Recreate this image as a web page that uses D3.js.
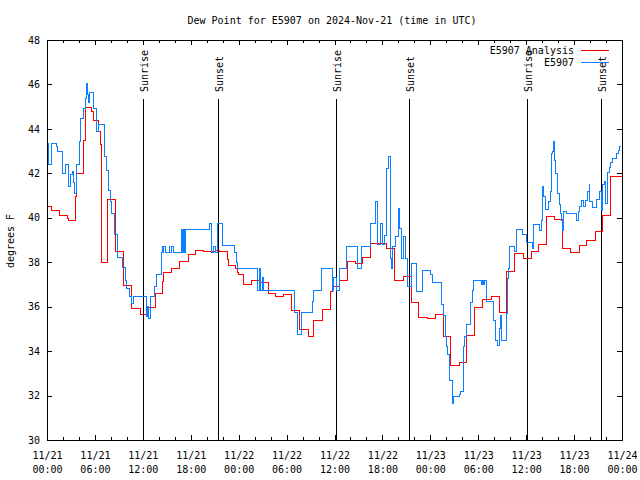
<!DOCTYPE html>
<html><head><meta charset="utf-8">
<script src="https://cdn.jsdelivr.net/npm/d3@7"></script>
<style>
body{margin:0;background:#fff}
svg text{font-family:"DejaVu Sans Mono",monospace;font-size:10px;fill:#000}
</style>
</head><body><svg id="c" width="640" height="480"></svg>
<script>
const chartTitle = "Dew Point for E5907 on 2024-Nov-21 (time in UTC)";
const yAxisLabel = "degrees F";
const seriesNames = ["E5907 Analysis", "E5907"];
const seriesColors = ["#ff0000", "#0a80ff"];
const startDate = Date.UTC(2024, 10, 21);
const endHour = 72;
const yTicks = [30, 32, 34, 36, 38, 40, 42, 44, 46, 48];
const sunriseHours = [12.06, 36.15, 60.14];
const sunsetHours = [21.45, 45.37, 69.41];

// E5907 Analysis (hours after 11/21 00:00 UTC, degrees F)
const analysisHours = [0,0.54,1.59,2.54,2.75,3.59,3.72,4.63,4.76,5.60,5.76,6.51,6.72,6.80,7.55,8.60,9.52,10.56,11.65,12.56,13.61,14.49,14.56,15.61,16.57,17.69,18.62,19.57,21.04,21.66,22.63,22.70,23.63,23.83,24.04,24.58,25.63,26.76,27.71,28.64,29.59,30.64,31.59,32.72,33.43,34.47,35.53,35.73,36.60,37.60,38.57,39.48,40.53,42.54,43.49,44.62,45.58,46.58,47.67,48.59,49.62,50.55,51.59,52.55,53.59,54.56,55.60,56.60,57.56,58.48,59.64,60.61,61.52,62.57,63.61,64.58,65.61,66.62,67.58,68.71,69.58,70.62,71.54,72];
const analysisValues = [40.5,40.33,40.1,39.95,39.9,40.95,42.0,43.5,44.97,44.8,44.4,43.9,43.3,38.0,40.83,38.5,36.95,35.9,35.66,35.97,36.6,37.12,37.55,37.72,38.05,38.37,38.54,38.49,38.55,38.5,38.13,37.87,37.72,37.55,37.43,37.0,37.2,37.08,36.6,36.45,36.56,35.82,34.98,34.68,35.37,35.88,36.68,36.93,37.2,38.03,37.95,38.2,38.85,38.63,37.2,37.38,36.2,35.52,35.48,35.66,34.68,33.37,33.49,34.7,35.97,36.33,36.48,35.73,37.58,38.4,38.16,38.49,38.8,40.08,39.93,38.61,38.46,38.76,39.0,39.4,40.12,41.88,41.85,41.85];

// E5907 observations
const obsHours = [0,0.25,0.54,1.21,1.29,1.92,2.34,2.63,2.75,2.88,3.17,3.32,3.47,3.67,4.01,4.13,4.22,4.51,4.76,4.92,5.01,5.17,5.35,5.76,6.22,6.51,7.26,7.48,7.68,7.98,8.10,8.39,8.51,8.80,9.43,9.77,9.98,10.36,10.56,10.81,12.48,12.56,12.68,13.02,13.52,13.65,14.28,14.40,14.59,14.65,14.78,15.28,15.40,15.65,15.78,16.78,16.94,17.03,17.16,17.28,20.29,20.54,20.91,21.04,21.41,21.95,23.45,23.67,23.83,26.33,26.55,26.76,26.96,27.09,31.05,31.39,31.89,33.22,33.31,34.35,35.78,35.88,36.19,36.60,37.53,38.86,39.41,40.45,41.16,41.41,41.70,41.99,42.32,42.54,42.70,42.95,43.16,43.24,43.58,43.99,44.20,44.42,44.62,44.83,45.17,45.58,46.21,47.05,47.75,47.96,48.25,49.42,49.71,49.92,50.05,50.17,50.38,50.75,50.96,51.59,51.80,52.13,52.34,52.55,52.97,53.26,53.38,54.35,54.47,54.60,54.72,55.06,55.97,56.22,56.39,56.64,56.76,56.94,57.56,57.69,57.76,57.89,58.48,58.82,59.57,60.07,60.82,60.98,61.65,61.95,62.07,62.23,62.36,62.77,62.99,63.11,63.20,63.27,63.40,63.49,63.70,63.90,64.15,64.33,64.45,64.58,64.65,64.86,64.99,66.33,66.53,66.74,66.95,67.16,67.37,67.66,67.91,67.99,68.33,68.83,69.16,69.46,69.58,69.79,69.96,70.16,70.41,70.62,70.86,71.25,71.54,71.66,71.88];
const obsValues = [43.35,42.4,43.35,43.2,42.98,42.0,42.4,41.96,41.4,41.96,42.1,41.6,41.1,42.38,42.75,43.43,44.48,44.9,45.37,46.05,45.53,45.2,45.65,44.93,43.87,44.2,42.75,42.15,41.25,40.73,40.2,39.75,39.23,38.2,37.75,37.2,36.8,36.45,36.15,36.48,35.55,36.0,35.48,36.45,36.93,37.43,38.44,38.7,38.44,38.7,38.44,38.7,38.44,38.7,38.44,39.48,38.44,39.48,38.44,39.48,39.75,38.44,38.7,38.44,39.75,38.75,38.44,38.0,37.72,36.75,37.72,36.75,37.3,36.75,35.73,34.73,35.75,36.23,36.75,37.72,36.75,37.3,36.75,37.72,38.7,37.72,38.7,39.75,40.73,38.78,39.75,38.78,39.2,42.22,42.78,38.17,37.72,38.7,39.15,40.43,39.5,38.17,39.15,38.17,36.9,37.95,36.68,37.65,37.65,37.43,37.1,36.1,35.62,34.68,34.2,33.83,32.7,31.65,31.95,32.05,32.2,34.2,34.68,35.2,36.18,36.72,37.2,37.0,37.2,37.0,37.2,36.23,35.4,34.5,34.27,35.02,35.6,34.5,35.7,37.27,37.72,38.7,38.48,39.48,39.23,38.88,38.63,39.68,39.45,39.9,41.4,40.95,40.38,40.73,41.18,41.7,42.9,43.0,43.43,42.6,42.0,41.1,40.58,40.2,39.9,39.45,40.3,40.28,40.2,39.9,40.28,40.5,40.8,40.5,40.8,41.18,41.48,40.73,40.48,40.83,41.18,40.35,41.5,41.63,40.65,42.03,42.27,42.48,42.68,42.9,43.05,43.23,43.23];

const toDate = h => new Date(startDate + h * 3600e3);
const svg = d3.select("#c");
const L = 47, R = 622, T = 40, B = 440;

const x = d3.scaleUtc().domain([toDate(0), toDate(endHour)]).range([L, R]);
const y = d3.scaleLinear().domain([30, 48]).range([B, T]);

// title
svg.append("text").attr("x", 332).attr("y", 24).attr("text-anchor", "middle").text(chartTitle);
// y label
svg.append("text").attr("transform", "translate(14,241) rotate(-90)").attr("text-anchor", "middle").text(yAxisLabel);

// axes
const majorTicks = d3.utcHour.every(6).range(toDate(0), toDate(endHour + 0.01));
const minorTicks = d3.utcHour.every(2).range(toDate(0), toDate(endHour + 0.01)).filter(d => d.getUTCHours() % 6 !== 0);

const gx = svg.append("g").attr("transform", `translate(0,${B})`)
  .call(d3.axisBottom(x).tickValues(majorTicks).tickSize(-5).tickFormat(""));
gx.selectAll(".tick").each(function(d) {
  const t = d3.select(this).append("text").attr("text-anchor", "middle");
  t.append("tspan").attr("x", 0).attr("y", 19).text(d3.utcFormat("%m/%d")(d));
  t.append("tspan").attr("x", 0).attr("y", 33).text(d3.utcFormat("%H:%M")(d));
});
svg.append("g").attr("transform", `translate(0,${B})`).call(d3.axisBottom(x).tickValues(minorTicks).tickSize(-3).tickFormat(""));
svg.append("g").attr("transform", `translate(0,${T})`).call(d3.axisTop(x).tickValues(majorTicks).tickSize(-5).tickFormat(""));
svg.append("g").attr("transform", `translate(0,${T})`).call(d3.axisTop(x).tickValues(minorTicks).tickSize(-3).tickFormat(""));
svg.append("g").attr("transform", `translate(${L},0)`).call(d3.axisLeft(y).tickValues(yTicks).tickSize(-5).tickPadding(7).tickFormat(d3.format("d")));
svg.append("g").attr("transform", `translate(${R},0)`).call(d3.axisRight(y).tickValues(yTicks).tickSize(-5).tickFormat(""));
svg.selectAll(".domain").remove();
svg.selectAll(".tick line").attr("stroke", "#000").attr("shape-rendering", "crispEdges");
svg.selectAll(".tick text").attr("font-family", null).attr("font-size", null).attr("fill", "#000");

// sunrise / sunset
const events = sunriseHours.map(h => ({h, label: "Sunrise"})).concat(sunsetHours.map(h => ({h, label: "Sunset"})));
events.forEach(e => {
  const px = Math.round(x(toDate(e.h))) + 0.5;
  svg.append("line").attr("x1", px).attr("x2", px).attr("y1", 99).attr("y2", B)
    .attr("stroke", "#000").attr("stroke-width", 1);
  svg.append("text").attr("transform", `translate(${px + 4.5},92) rotate(-90)`).attr("text-anchor", "start").text(e.label);
});

// series
const line = d3.line().curve(d3.curveStepAfter).x(d => x(toDate(d[0]))).y(d => y(d[1]));
const analysis = analysisHours.map((h, i) => [h, analysisValues[i]]);
const obs = obsHours.map((h, i) => [h, obsValues[i]]);
svg.append("path").datum(analysis).attr("d", line).attr("fill", "none").attr("stroke", seriesColors[0]).attr("stroke-width", 1).attr("shape-rendering", "crispEdges");
svg.append("path").datum(obs).attr("d", line).attr("fill", "none").attr("stroke", seriesColors[1]).attr("stroke-width", 1).attr("shape-rendering", "crispEdges");

// legend
seriesNames.forEach((n, i) => {
  const ly = 50 + i * 12.5;
  svg.append("text").attr("x", 574).attr("y", ly + 3.5).attr("text-anchor", "end").text(n);
  svg.append("line").attr("x1", 581).attr("x2", 609).attr("y1", ly).attr("y2", ly)
    .attr("stroke", seriesColors[i]).attr("stroke-width", 1).attr("shape-rendering", "crispEdges");
});

// frame
svg.append("rect").attr("x", L).attr("y", T).attr("width", R - L).attr("height", B - T)
  .attr("fill", "none").attr("stroke", "#000").attr("shape-rendering", "crispEdges");
</script>
</body></html>
